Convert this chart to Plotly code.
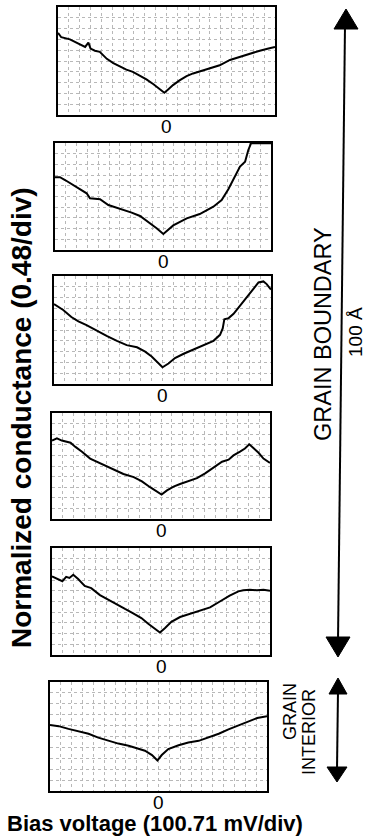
import plotly.graph_objects as go

# ---------------- data (grid divisions) ----------------
p1_x = [-10, -9.7, -8.9, -8.15, -7.5, -7.2, -7.0, -6.6, -6.15, -5.5, -4.9, -4.3, -3.7, -3.1, -2.5, -1.85, -1.2, -0.6, -0.2,
        0.15, 0.6, 1.2, 1.85, 2.45, 3.2, 4.0, 4.9, 5.85, 6.8, 7.7, 8.6, 9.4, 10]
p1_y = [7.6, 7.2, 7.0, 6.6, 6.3, 6.7, 6.15, 5.95, 5.85, 5.2, 4.8, 4.5, 4.2, 4.0, 3.7, 3.3, 2.85, 2.37, 2.06,
        2.37, 2.77, 3.2, 3.6, 3.85, 4.1, 4.3, 4.6, 5.1, 5.4, 5.7, 5.95, 6.15, 6.3]

p2_x = [-10, -9.54, -9.07, -8.6, -8.15, -7.53, -7.07, -6.76, -5.83, -5.06, -3.8, -2.9, -2.13, -1.2, -0.59, 0.03,
        0.95, 2.2, 3.4, 4.66, 5.43, 6.05, 6.5, 7.13, 7.6, 7.9, 8.15, 10]
p2_y = [6.8, 6.8, 6.54, 6.23, 5.98, 5.6, 5.3, 4.83, 4.74, 4.2, 3.8, 3.49, 3.18, 2.5, 2.03, 1.5,
        2.3, 2.96, 3.36, 4.05, 4.67, 5.67, 6.54, 7.8, 8.25, 9.35, 9.97, 9.97]

p3_x = [-10, -9.15, -8.4, -7.75, -7.0, -6.2, -5.15, -4.2, -3.3, -2.35, -1.6, -1.0, -0.4, 0.0, 0.55, 1.15, 1.95, 2.85,
        3.8, 4.7, 5.3, 5.55, 5.7, 6.1, 6.55, 7.2, 7.8, 8.4, 8.85, 9.3, 9.6, 10]
p3_y = [7.4, 6.85, 6.2, 5.8, 5.45, 5.0, 4.45, 4.0, 3.6, 3.4, 3.0, 2.55, 2.0, 1.55, 1.9, 2.4, 2.8, 3.2,
        3.6, 4.0, 4.55, 5.15, 6.0, 6.1, 6.5, 7.3, 8.1, 8.85, 9.4, 9.5, 9.25, 8.75]

p4_x = [-10, -9.55, -9.1, -8.3, -7.85, -7.25, -6.5, -5.7, -4.95, -4.2, -3.45, -2.5, -1.75, -1.0, -0.4, 0.05, 0.55,
        1.15, 1.75, 2.5, 3.3, 4.05, 4.8, 5.6, 6.2, 6.65, 7.25, 7.7, 8.1, 8.5, 8.95, 9.4, 10]
p4_y = [7.4, 7.6, 7.4, 7.2, 6.8, 6.35, 5.7, 5.3, 5.0, 4.55, 4.25, 3.95, 3.55, 3.0, 2.6, 2.3, 2.7,
        3.05, 3.3, 3.6, 3.85, 4.3, 4.8, 5.4, 5.6, 6.0, 6.35, 6.65, 7.05, 6.65, 6.25, 5.7, 5.3]

p5_x = [-10, -9.45, -9.05, -8.7, -8.4, -8.05, -7.6, -7.0, -6.4, -5.6, -4.85, -4.1, -3.3, -2.55, -1.8, -1.2, -0.55,
        -0.1, 0.35, 0.95, 1.75, 2.65, 3.55, 4.5, 5.4, 6.3, 7.1, 7.55, 8.15, 8.8, 9.4, 10]
p5_y = [7.35, 7.1, 6.9, 7.3, 7.2, 7.5, 7.1, 6.45, 6.25, 5.6, 5.15, 4.7, 4.3, 3.9, 3.45, 2.95, 2.4,
        2.1, 2.5, 3.1, 3.55, 3.85, 4.15, 4.45, 5.0, 5.55, 5.95, 6.05, 6.1, 6.05, 6.1, 6.0]

p6_x = [-10, -9.2, -8.3, -7.4, -6.45, -5.55, -4.6, -3.7, -2.75, -1.85, -1.25, -0.6, -0.1, 0.3, 0.9, 1.85, 2.75,
        3.7, 4.6, 5.55, 6.45, 7.4, 8.3, 9.1, 10]
p6_y = [6.05, 5.95, 5.7, 5.45, 5.25, 4.9, 4.6, 4.35, 4.15, 3.9, 3.7, 3.3, 2.8, 3.3, 3.85, 4.2, 4.45,
        4.6, 4.9, 5.25, 5.65, 6.0, 6.4, 6.7, 6.85]

series_x = [p1_x, p2_x, p3_x, p4_x, p5_x, p6_x]
series_y = [p1_y, p2_y, p3_y, p4_y, p5_y, p6_y]
zero_label = "0"

# ---------------- layout helpers ----------------
W, H = 368, 839
FONT = "Liberation Sans, Arial, sans-serif"


def px(x):
    return x / W


def py(y):
    return 1 - y / H


# panel boxes in pixels: left, right, top, bottom
boxes = [(58, 275, 7, 115), (55, 271, 143, 250), (54, 271, 276, 384),
         (52, 270, 413, 519), (52, 270, 548, 655), (50, 267, 682, 791)]

fig = go.Figure()
layout = dict(
    width=W, height=H,
    margin=dict(l=0, r=0, t=0, b=0),
    paper_bgcolor="white", plot_bgcolor="white",
    showlegend=False,
    font=dict(family=FONT, color="black"),
)
annotations = []
for i, (xs, ys) in enumerate(zip(series_x, series_y)):
    n = "" if i == 0 else str(i + 1)
    l, r, t, b = boxes[i]
    fig.add_trace(go.Scatter(x=xs, y=ys, mode="lines",
                             line=dict(color="black", width=2),
                             xaxis="x" + n, yaxis="y" + n, hoverinfo="skip"))
    axcommon = dict(showgrid=True, gridcolor="#b8b8b8", griddash="dot", gridwidth=1,
                    zeroline=False, showline=True, mirror=True, linecolor="black",
                    linewidth=2, ticks="", showticklabels=False, tickmode="linear",
                    tick0=0, dtick=1, fixedrange=True)
    layout["xaxis" + n] = dict(axcommon, range=[-10, 10], domain=[px(l), px(r)],
                               anchor="y" + n)
    layout["yaxis" + n] = dict(axcommon, range=[0, 10], domain=[py(b), py(t)],
                               anchor="x" + n)
    annotations.append(dict(x=0, y=py(b + 11), xref="x" + n, yref="paper",
                            text=zero_label, showarrow=False,
                            font=dict(size=19, family=FONT, color="black"),
                            xanchor="center", yanchor="middle"))

annotations += [
    dict(x=px(21), y=py(418), xref="paper", yref="paper", textangle=-90,
         text="<b>Normalized conductance (0.48/div)</b>", showarrow=False,
         font=dict(size=28, family=FONT), xanchor="center", yanchor="middle"),
    dict(x=px(155), y=py(823), xref="paper", yref="paper",
         text="<b>Bias voltage (100.71 mV/div)</b>", showarrow=False,
         font=dict(size=22, family=FONT), xanchor="center", yanchor="middle"),
    dict(x=px(323), y=py(334), xref="paper", yref="paper", textangle=-90,
         text="GRAIN BOUNDARY", showarrow=False,
         font=dict(size=23.5, family=FONT), xanchor="center", yanchor="middle"),
    dict(x=px(355), y=py(332), xref="paper", yref="paper", textangle=-90,
         text="100 Å", showarrow=False,
         font=dict(size=19, family=FONT), xanchor="center", yanchor="middle"),
    dict(x=px(290), y=py(712), xref="paper", yref="paper", textangle=-90,
         text="GRAIN", showarrow=False,
         font=dict(size=18, family=FONT), xanchor="center", yanchor="middle"),
    dict(x=px(309), y=py(732), xref="paper", yref="paper", textangle=-90,
         text="INTERIOR", showarrow=False,
         font=dict(size=18, family=FONT), xanchor="center", yanchor="middle"),
]
layout["annotations"] = annotations


def tri(tipx, tipy, basey, half):
    return (f"M {px(tipx)} {py(tipy)} L {px(tipx - half)} {py(basey)} "
            f"L {px(tipx + half)} {py(basey)} Z")


shapes = [
    dict(type="line", xref="paper", yref="paper", x0=px(345), y0=py(25), x1=px(338), y1=py(642),
         line=dict(color="black", width=2)),
    dict(type="path", xref="paper", yref="paper", path=tri(346, 9, 29, 12),
         fillcolor="black", line=dict(color="black", width=1)),
    dict(type="path", xref="paper", yref="paper", path=tri(338, 657, 637, 12),
         fillcolor="black", line=dict(color="black", width=1)),
    dict(type="line", xref="paper", yref="paper", x0=px(338), y0=py(690), x1=px(337), y1=py(770),
         line=dict(color="black", width=2)),
    dict(type="path", xref="paper", yref="paper", path=tri(338, 678, 694, 9),
         fillcolor="black", line=dict(color="black", width=1)),
    dict(type="path", xref="paper", yref="paper", path=tri(337, 782, 767, 10),
         fillcolor="black", line=dict(color="black", width=1)),
]
layout["shapes"] = shapes

fig.update_layout(**layout)
fig.write_html("out.html", config={"displayModeBar": False},
               post_script="document.body.style.margin='0px';document.body.style.overflow='hidden';")
